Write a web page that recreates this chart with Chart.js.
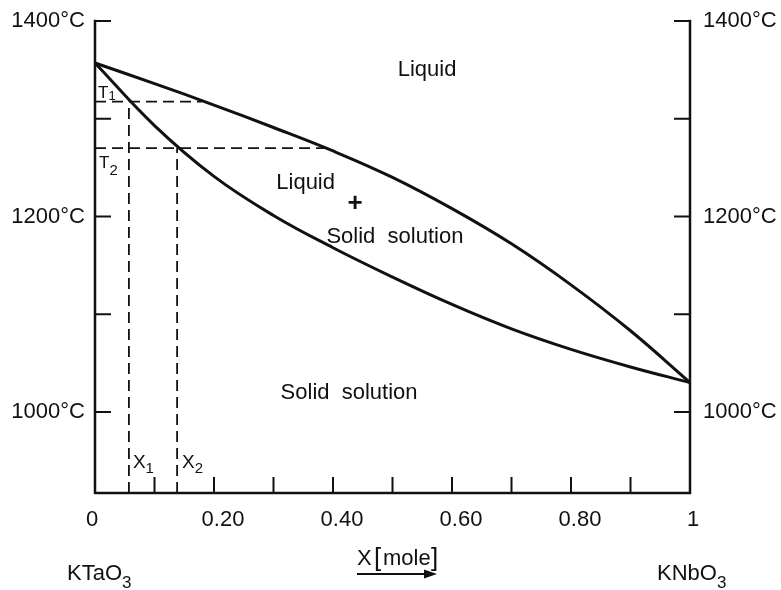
<!DOCTYPE html>
<html>
<head>
<meta charset="utf-8">
<script src="https://cdn.jsdelivr.net/npm/chart.js@4.4.1/dist/chart.umd.min.js"></script>
<style>
  html, body { margin: 0; padding: 0; background: #fff; }
</style>
</head>
<body>
<canvas id="phaseChart" width="781" height="590"></canvas>
<script>
// composition X (mole fraction KNbO3)
const compX = [0, 0.1, 0.2, 0.3, 0.4, 0.5, 0.6, 0.7, 0.8, 0.9, 1];
// liquidus and solidus temperatures (°C)
const liquidusT = [1357, 1336, 1314, 1291, 1267, 1240, 1208, 1172, 1130, 1083, 1030];
const solidusT = [1357, 1293, 1241, 1201, 1168, 1138, 1110, 1085, 1064, 1046, 1030];

// tie lines: T1 and T2 with solid (X1, X2) and liquid compositions
const tieT = [1317.5, 1270];
const tieSolidX = [0.057, 0.138];
const tieLiquidX = [0.18, 0.392];

// axes
const tMin = 917;
const tMax = 1400;
const yTickValues = [1000, 1100, 1200, 1300, 1400];
const yTickLabels = ["1000°C", "", "1200°C", "", "1400°C"];
const xTickValues = [0.1, 0.2, 0.3, 0.4, 0.5, 0.6, 0.7, 0.8, 0.9];
const xLabelValues = [0, 0.2, 0.4, 0.6, 0.8, 1];
const xLabelTexts = ["0", "0.20", "0.40", "0.60", "0.80", "1"];

const ink = "#111";
const font = "'Liberation Sans', Arial, sans-serif";

const toPoints = (xs, ys) => xs.map((v, i) => ({ x: v, y: ys[i] }));

const datasets = [
  {
    label: "Liquidus",
    data: toPoints(compX, liquidusT),
    borderColor: ink,
    borderWidth: 3,
    tension: 0.4,
  },
  {
    label: "Solidus",
    data: toPoints(compX, solidusT),
    borderColor: ink,
    borderWidth: 3,
    tension: 0.4,
  },
];

// dashed guide lines
tieT.forEach((t, i) => {
  datasets.push({
    label: "T" + (i + 1),
    data: [{ x: 0, y: t }, { x: tieLiquidX[i], y: t }],
    borderColor: ink,
    borderWidth: 1.8,
    borderDash: [11, 6],
  });
  datasets.push({
    label: "X" + (i + 1),
    data: [{ x: tieSolidX[i], y: tMin }, { x: tieSolidX[i], y: t }],
    borderColor: ink,
    borderWidth: 1.8,
    borderDash: [11, 6],
  });
});

// text with a subscript
const subText = (ctx, main, sub, px, py, size, subSize, drop) => {
  ctx.font = size + "px " + font;
  ctx.textAlign = "left";
  ctx.textBaseline = "alphabetic";
  ctx.fillText(main, px, py);
  const w = ctx.measureText(main).width;
  ctx.font = subSize + "px " + font;
  ctx.fillText(sub, px + w, py + drop);
};

const framePlugin = {
  id: "frame",
  afterDatasetsDraw(chart) {
    const { ctx } = chart;
    const x = chart.scales.x;
    const y = chart.scales.y;
    const x0 = x.getPixelForValue(0);
    const x1 = x.getPixelForValue(1);
    const yTop = y.getPixelForValue(tMax);
    const yBot = y.getPixelForValue(tMin);
    const tick = 16;

    ctx.save();
    ctx.strokeStyle = ink;
    ctx.fillStyle = ink;
    ctx.lineWidth = 2.5;
    ctx.lineCap = "square";
    ctx.beginPath();
    ctx.moveTo(x0, yTop);
    ctx.lineTo(x0, yBot);
    ctx.lineTo(x1, yBot);
    ctx.lineTo(x1, yTop);
    ctx.stroke();

    ctx.lineWidth = 2;
    ctx.lineCap = "butt";
    ctx.beginPath();
    yTickValues.forEach((v) => {
      const py = y.getPixelForValue(v);
      ctx.moveTo(x0, py);
      ctx.lineTo(x0 + tick, py);
      ctx.moveTo(x1, py);
      ctx.lineTo(x1 - tick, py);
    });
    xTickValues.forEach((v) => {
      const px = x.getPixelForValue(v);
      ctx.moveTo(px, yBot);
      ctx.lineTo(px, yBot - tick);
    });
    ctx.stroke();

    // tick labels
    ctx.font = "22px " + font;
    ctx.textBaseline = "middle";
    yTickValues.forEach((v, i) => {
      if (!yTickLabels[i]) return;
      const py = y.getPixelForValue(v);
      ctx.textAlign = "right";
      ctx.fillText(yTickLabels[i], x0 - 10, py);
      ctx.textAlign = "left";
      ctx.fillText(yTickLabels[i], x1 + 13, py);
    });
    ctx.textAlign = "center";
    xLabelValues.forEach((v, i) => {
      const shift = v === 0 ? -3 : v === 1 ? 3 : 9;
      ctx.fillText(xLabelTexts[i], x.getPixelForValue(v) + shift, yBot + 27);
    });

    // region labels
    ctx.font = "22px " + font;
    ctx.fillText("Liquid", x.getPixelForValue(0.558), y.getPixelForValue(1350));
    ctx.fillText("Liquid", x.getPixelForValue(0.354), y.getPixelForValue(1234));
    ctx.fillText("Solid  solution", x.getPixelForValue(0.504), y.getPixelForValue(1179));
    ctx.fillText("Solid  solution", x.getPixelForValue(0.427), y.getPixelForValue(1019));
    ctx.font = "bold 26px " + font;
    ctx.fillText("+", x.getPixelForValue(0.437), y.getPixelForValue(1213));

    // T1, T2, X1, X2
    subText(ctx, "T", "1", x0 + 3, y.getPixelForValue(tieT[0]) - 4, 17, 13, 2);
    subText(ctx, "T", "2", x0 + 4, y.getPixelForValue(tieT[1]) + 20, 17, 15, 7);
    subText(ctx, "X", "1", x.getPixelForValue(tieSolidX[0]) + 4, yBot - 25, 19, 15, 5);
    subText(ctx, "X", "2", x.getPixelForValue(tieSolidX[1]) + 5, yBot - 25, 19, 15, 5);

    // end members
    subText(ctx, "KTaO", "3", 67, 580, 22, 17, 8);
    subText(ctx, "KNbO", "3", 657, 580, 22, 17, 8);

    // axis title with arrow
    ctx.font = "22px " + font;
    ctx.textAlign = "left";
    ctx.textBaseline = "alphabetic";
    ctx.fillText("X", 357, 565);
    ctx.font = "26px " + font;
    ctx.fillText("[", 374, 566);
    ctx.font = "22px " + font;
    ctx.fillText("mole", 383, 565);
    ctx.font = "26px " + font;
    ctx.fillText("]", 431, 566);

    ctx.lineWidth = 2;
    ctx.beginPath();
    ctx.moveTo(357, 574);
    ctx.lineTo(428, 574);
    ctx.stroke();
    ctx.beginPath();
    ctx.moveTo(437, 574);
    ctx.lineTo(424, 569.5);
    ctx.lineTo(424, 578.5);
    ctx.closePath();
    ctx.fill();

    ctx.restore();
  },
};

new Chart(document.getElementById("phaseChart"), {
  type: "scatter",
  data: { datasets: datasets },
  options: {
    responsive: false,
    animation: false,
    showLine: true,
    clip: false,
    layout: { padding: { left: 95, right: 91, top: 21, bottom: 97 } },
    elements: { point: { radius: 0, hoverRadius: 0 } },
    plugins: { legend: { display: false }, tooltip: { enabled: false } },
    scales: {
      x: { type: "linear", min: 0, max: 1, display: false },
      y: { type: "linear", min: tMin, max: tMax, display: false },
    },
  },
  plugins: [framePlugin],
});
</script>
</body>
</html>
